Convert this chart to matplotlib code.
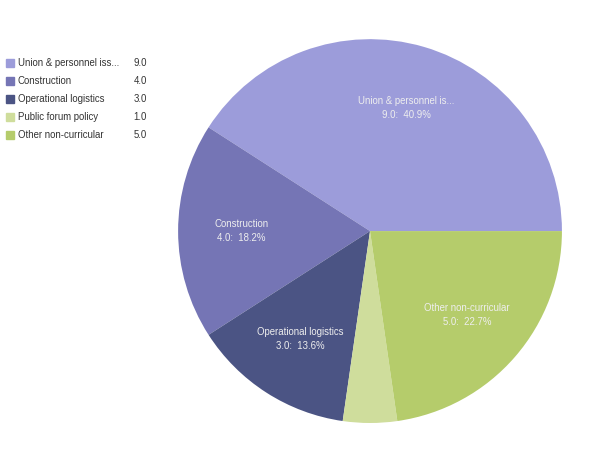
import numpy as np
import matplotlib.pyplot as plt
from matplotlib.patches import Rectangle

names = ["Union & personnel issues", "Construction", "Operational logistics",
         "Public forum policy", "Other non-curricular"]
legend_names = ["Union & personnel iss...", "Construction", "Operational logistics",
                "Public forum policy", "Other non-curricular"]
pie_names = ["Union & personnel is...", "Construction", "Operational logistics",
             "", "Other non-curricular"]
values = [9.0, 4.0, 3.0, 1.0, 5.0]
colors = ["#9c9cda", "#7575b5", "#4b5484", "#cfdd9c", "#b5cc6b"]

plt.rcParams["font.family"] = ["Liberation Sans", "DejaVu Sans"]

fig = plt.figure(figsize=(6, 4.63), dpi=100)
ax = fig.add_axes([0.2967, 0.0864, 0.64, 0.829])
ax.pie(values, colors=colors, startangle=0, counterclock=True,
       wedgeprops={"linewidth": 0})
ax.set_xlim(-1, 1)
ax.set_ylim(-1, 1)
ax.set_aspect("equal")

total = sum(values)
start = 0
for name, v in zip(pie_names, values):
    mid = np.deg2rad(start + v / total * 360 / 2)
    start += v / total * 360
    if not name:
        continue
    r = 0.67
    ax.text(r * np.cos(mid), r * np.sin(mid),
            "%s\n%.1f:  %.1f%%" % (name, v, v / total * 100),
            ha="center", va="center", color="#eeeeee", fontsize=6.9,
            linespacing=1.45)

# legend
y0 = 463 - 63
for i, (name, v, c) in enumerate(zip(legend_names, values, colors)):
    y = (y0 - i * 18) / 463
    fig.patches.append(Rectangle((6 / 600, y - 4 / 463), 8 / 600, 8 / 463,
                                 transform=fig.transFigure, color=c))
    fig.text(18 / 600, y, name, va="center", ha="left", fontsize=6.9, color="#333333")
    fig.text(147 / 600, y, "%.1f" % v, va="center", ha="right", fontsize=6.9, color="#333333")

fig.savefig("out.png", dpi=100)
